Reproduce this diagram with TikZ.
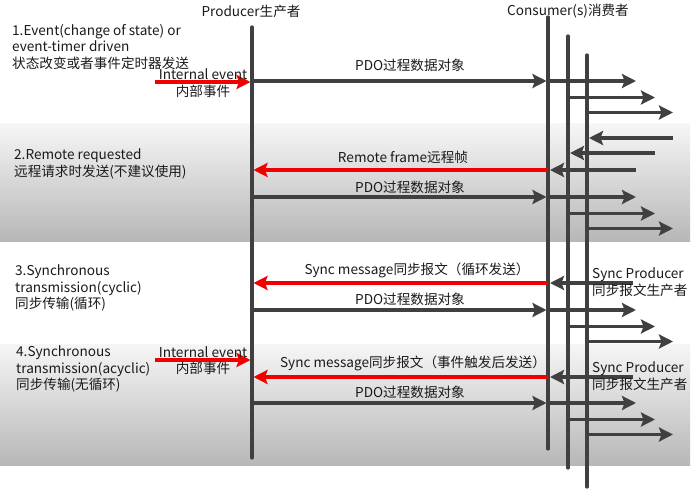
\documentclass[tikz,border=0pt]{standalone}
\usepackage{fontspec}
\setmainfont{Noto Sans CJK SC}
\usepackage{tikz}
\usetikzlibrary{arrows.meta}
\definecolor{lifegray}{HTML}{404040}
\definecolor{textgray}{HTML}{1A1A1A}
\definecolor{msgred}{HTML}{F20000}
\definecolor{bandtop}{HTML}{F6F6F6}
\definecolor{bandbot}{HTML}{B7B7B7}

\begin{document}
\begin{tikzpicture}[x=1pt,y=-1pt,
		life/.style={line width=3.2pt, draw=lifegray, line cap=round},
		msg/.style={line width=3.2pt, draw=lifegray, -{Stealth[length=14pt,width=14pt,inset=2.5pt]}},
		redmsg/.style={msg, line width=3.4pt, draw=msgred},
		lbl/.style={font=\fontsize{13.6}{16.5}\selectfont, text=textgray, inner sep=0pt},
		side/.style={lbl, align=left, anchor=west}]
			%%%%% START %%%%%
			
			\useasboundingbox (0,0) rectangle (699,492);
			\fill[white] (0,0) rectangle (699,492);
			
			% gray bands of case 2 and case 4
			\shade[top color=bandtop, bottom color=bandbot] (0,124) rectangle (690,241);
			\shade[top color=bandtop, bottom color=bandbot] (0,344) rectangle (690,465);
			
			% life lines
			\coordinate (prodtop) at (252,27);   \coordinate (prodbot) at (252,458);
			\coordinate (consAtop) at (548,17);  \coordinate (consAbot) at (548,449);
			\coordinate (consBtop) at (568,36);  \coordinate (consBbot) at (568,468);
			\coordinate (consCtop) at (587,55);  \coordinate (consCbot) at (587,487);
			\draw[life] (prodtop) -- (prodbot);
			\draw[life] (consAtop) -- (consAbot);
			\draw[life] (consBtop) -- (consBbot);
			\draw[life] (consCtop) -- (consCbot);
			
			\node[lbl] (prodlbl) at (251,11) {Producer生产者};
			\node[lbl] (conslbl) at (568,11) {Consumer(s)消费者};
			
			% case texts
			\node[side] (caseA) at (12,47) {1.Event(change of state) or\\event-timer driven\\状态改变或者事件定时器发送};
			\node[side] (caseB) at (14,164) {2.Remote requested\\远程请求时发送(不建议使用)};
			\node[side] (caseC) at (15,288) {3.Synchronous\\transmission(cyclic)\\同步传输(循环)};
			\node[side] (caseD) at (16,369) {4.Synchronous\\transmission(acyclic)\\同步传输(无循环)};
			
			% internal events
			\coordinate (intAs) at (155,82);  \coordinate (intAe) at (250.5,82);
			\draw[redmsg] (intAs) -- (intAe);
			\node[lbl] (intAup) at (203,74) {Internal event};
			\node[lbl] (intAdn) at (203,91) {内部事件};
			
			\coordinate (intDs) at (155,360);  \coordinate (intDe) at (250.5,360);
			\draw[redmsg] (intDs) -- (intDe);
			\node[lbl] (intDup) at (203,352) {Internal event};
			\node[lbl] (intDdn) at (203,368) {内部事件};
			
			% PDO from producer to consumer
			\foreach \n/\y/\t in {A/81/65, B/197/187, C/310/299, D/403/392}{
				\coordinate (pdo\n s) at (252,\y);
				\coordinate (pdo\n e) at (546.5,\y);
				\draw[msg] (pdo\n s) -- (pdo\n e);
				\node[lbl] (pdo\n lbl) at (410,\t) {PDO过程数据对象};
			}
			
			% fan out behind the consumers
			\foreach \n/\y in {A/81, B/197, C/310, D/403}{
				\coordinate (fan\n 1s) at (548,\y);       \coordinate (fan\n 1e) at (636,\y);
				\coordinate (fan\n 2s) at (568,\y+16.5);  \coordinate (fan\n 2e) at (655,\y+16.5);
				\coordinate (fan\n 3s) at (587,\y+31.5);  \coordinate (fan\n 3e) at (673,\y+31.5);
				\draw[msg] (fan\n 1s) -- (fan\n 1e);
				\draw[msg] (fan\n 2s) -- (fan\n 2e);
				\draw[msg] (fan\n 3s) -- (fan\n 3e);
			}
			
			% remote frame
			\coordinate (remC s) at (673,138);  \coordinate (remC e) at (589,138);
			\coordinate (remB s) at (655,153);  \coordinate (remB e) at (570,153);
			\coordinate (remA s) at (636,170);  \coordinate (remA e) at (550,170);
			\draw[msg] (remC s) -- (remC e);
			\draw[msg] (remB s) -- (remB e);
			\draw[msg] (remA s) -- (remA e);
			\coordinate (remreds) at (548,170);  \coordinate (remrede) at (253.5,170);
			\draw[redmsg] (remreds) -- (remrede);
			\node[lbl] (remlbl) at (403,157) {Remote frame远程帧};
			
			% sync messages
			\coordinate (syncCs) at (633,283);  \coordinate (syncCe) at (550,283);
			\draw[msg] (syncCs) -- (syncCe);
			\coordinate (syncCreds) at (548,283);  \coordinate (syncCrede) at (253.5,283);
			\draw[redmsg] (syncCreds) -- (syncCrede);
			\node[lbl] (syncClbl) at (417,270) {Sync message同步报文（循环发送）};
			\node[side] (syncCprod) at (592,282) {Sync Producer\\同步报文生产者};
			
			\coordinate (syncDs) at (633,377);  \coordinate (syncDe) at (550,377);
			\draw[msg] (syncDs) -- (syncDe);
			\coordinate (syncDreds) at (548,377);  \coordinate (syncDrede) at (253.5,377);
			\draw[redmsg] (syncDreds) -- (syncDrede);
			\node[lbl] (syncDlbl) at (413,363) {Sync message同步报文（事件触发后发送）};
			\node[side] (syncDprod) at (592,376) {Sync Producer\\同步报文生产者};
			
			%%%%% END %%%%%
		\end{tikzpicture}
\end{document}
